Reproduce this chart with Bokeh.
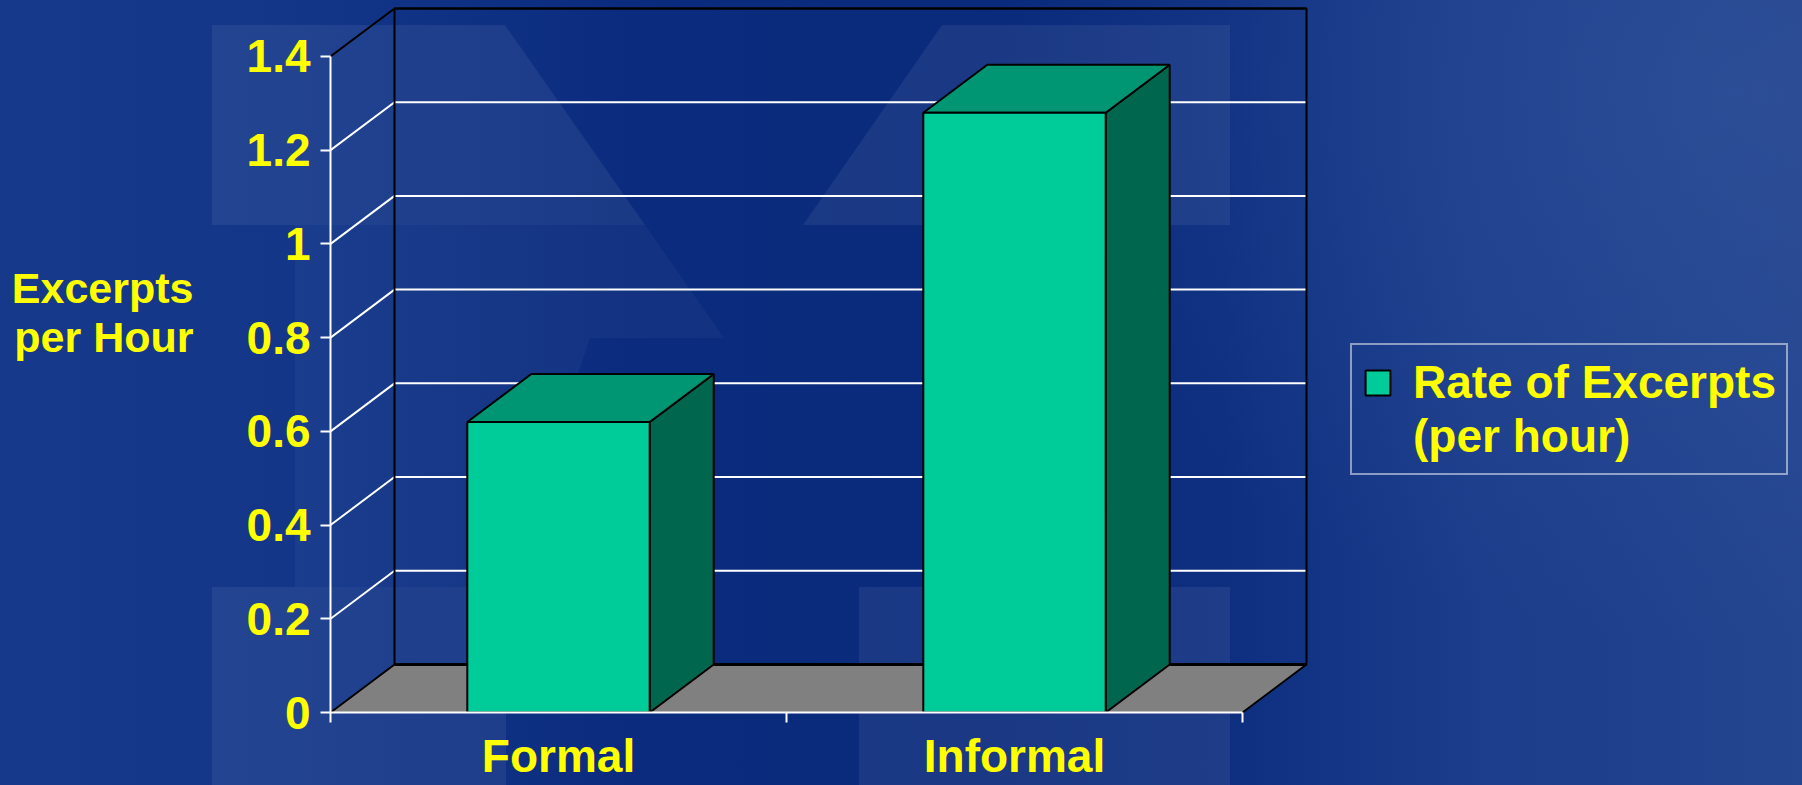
import urllib.parse
from bokeh.plotting import figure
from bokeh.models import (Range1d, FixedTicker, CustomJSTickFormatter, Legend,
                          LegendItem, LinearAxis)
from bokeh.embed import file_html
from bokeh.resources import INLINE

# ---------------- data ----------------
CATEGORIES = ["Formal", "Informal"]
RATES = [0.62, 1.28]
SERIES_LINES = ["Rate of Excerpts", "(per hour)"]
Y_TICKS = [0, 0.2, 0.4, 0.6, 0.8, 1.0, 1.2, 1.4]
Y_TITLE = ["Excerpts", "per Hour"]

# ---------------- layout constants ----------------
W, H = 1802, 785
LEFT, BOTTOM = 330, 73
PX_CAT = 456.0          # pixels per category slot
PX_VAL = 468.6          # pixels per value unit
X_END = (W - LEFT) / PX_CAT
Y_END = (H - BOTTOM) / PX_VAL
DX = 64 / PX_CAT        # 3-D depth offset (x)
DY = 48 / PX_VAL        # 3-D depth offset (y)
BAR_W = 0.4
N = len(CATEGORIES)
Y_MAX = Y_TICKS[-1]
TITLE_POS = [425 / PX_VAL, 376 / PX_VAL]   # vertical spots of the two title lines

FONT = "Liberation Sans"
YELLOW = "#FFFF00"

# ---------------- background (template look) ----------------
wm = ("<svg xmlns='http://www.w3.org/2000/svg' width='1802' height='785'>"
      "<g fill='white' fill-opacity='0.065'>"
      "<polygon points='212,25 505,25 645,225 212,225'/>"
      "<polygon points='942,25 1230,25 1230,225 803,225'/>"
      "<rect x='212' y='587' width='294' height='198'/>"
      "<rect x='859' y='587' width='371' height='198'/>"
      "</g>"
      "<g fill='white' fill-opacity='0.035'>"
      "<polygon points='295,225 645,225 724,338 590,338 505,587 295,587'/>"
      "</g></svg>")
wm_url = "url(\"data:image/svg+xml," + urllib.parse.quote(wm) + "\")"

p = figure(width=W, height=H, output_backend="svg", toolbar_location=None,
           x_range=Range1d(0, X_END), y_range=Range1d(0, Y_END),
           min_border_left=LEFT, min_border_bottom=BOTTOM,
           min_border_top=0, min_border_right=0,
           background_fill_color=None, border_fill_color=None,
           outline_line_color=None)
p.styles = {
    "background": (
        wm_url + " no-repeat 0 0,"
        "radial-gradient(ellipse 40% 70% at 96% 12%, rgba(60,95,165,0.35), rgba(60,95,165,0) 100%),"
        "linear-gradient(90deg, #16398a 0%, #133689 16%, #0b2c7e 35%, #0a2a7b 55%, "
        "#0e2f80 68%, #1b3d8b 82%, #24458f 100%)"
    )
}
p.xgrid.visible = False
p.ygrid.visible = False

# ---------------- floor ----------------
p.patch([0, N, N + DX, DX], [0, 0, DY, DY], fill_color="#808080", line_color=None)

# ---------------- grid lines (left diagonals + back wall) ----------------
inner = Y_TICKS[1:-1]
p.multi_line(xs=[[0, DX, N + DX] for _ in inner],
             ys=[[t, t + DY, t + DY] for t in inner],
             line_color="white", line_width=2)

# ---------------- wall / floor edges ----------------
edge_xs = [[0, DX, DX, N + DX, N + DX, N],
           [0, DX, N + DX]]
edge_ys = [[0, DY, Y_MAX + DY, Y_MAX + DY, DY, 0],
           [Y_MAX, Y_MAX + DY, Y_MAX + DY]]
p.multi_line(xs=edge_xs, ys=edge_ys, line_color="black", line_width=2)
p.line([DX, N + DX], [DY, DY], line_color="black", line_width=3)

# ---------------- 3-D bars ----------------
centers = [i + 0.5 for i in range(N)]
lefts = [c - BAR_W / 2 for c in centers]
rights = [c + BAR_W / 2 for c in centers]

p.patches(xs=[[r, r + DX, r + DX, r] for r in rights],
          ys=[[0, DY, v + DY, v] for v in RATES],
          fill_color="#00664D", line_color="black", line_width=2)
p.patches(xs=[[l, r, r + DX, l + DX] for l, r in zip(lefts, rights)],
          ys=[[v, v, v + DY, v + DY] for v in RATES],
          fill_color="#009673", line_color="black", line_width=2)
front = p.quad(left=lefts, right=rights, bottom=0, top=RATES,
               fill_color="#00CC99", line_color="black", line_width=2)

# ---------------- axes ----------------
ya = p.yaxis[0]
ya.bounds = (0, Y_MAX)
ya.ticker = FixedTicker(ticks=Y_TICKS, minor_ticks=[])
ya.formatter = CustomJSTickFormatter(code="return String(Math.round(tick*10)/10)")
ya.axis_line_color = "white"
ya.axis_line_width = 2
ya.major_tick_line_color = "white"
ya.major_tick_line_width = 2
ya.major_tick_out = 10
ya.major_tick_in = 0
ya.minor_tick_line_color = None
ya.major_label_text_font = FONT
ya.major_label_text_font_style = "bold"
ya.major_label_text_font_size = "46px"
ya.major_label_text_color = YELLOW
ya.major_label_standoff = 10

# y-axis title, two lines, horizontal, left of the tick labels
title_axis = LinearAxis(
    ticker=FixedTicker(ticks=TITLE_POS, minor_ticks=[]),
    formatter=CustomJSTickFormatter(
        args=dict(lines=Y_TITLE, pos=TITLE_POS),
        code=("let b = 0; for (let i = 0; i < pos.length; i++) {"
              " if (Math.abs(pos[i] - tick) < Math.abs(pos[b] - tick)) b = i; }"
              " return lines[b];")),
    axis_line_color=None, major_tick_line_color=None, minor_tick_line_color=None,
    major_tick_out=0, major_tick_in=0,
    major_label_text_font=FONT, major_label_text_font_style="bold",
    major_label_text_font_size="43px", major_label_text_color=YELLOW,
    major_label_standoff=50)
p.add_layout(title_axis, "left")

xa = p.xaxis[0]
xa.bounds = (0, N)
xa.ticker = FixedTicker(ticks=centers, minor_ticks=list(range(N + 1)))
xa.formatter = CustomJSTickFormatter(args=dict(cats=CATEGORIES),
                                     code="return cats[Math.floor(tick)]")
xa.axis_line_color = "white"
xa.axis_line_width = 2
xa.major_tick_line_color = None
xa.major_tick_out = 0
xa.major_tick_in = 0
xa.minor_tick_line_color = "white"
xa.minor_tick_line_width = 2
xa.minor_tick_out = 0
xa.minor_tick_in = -10
xa.major_label_text_font = FONT
xa.major_label_text_font_style = "bold"
xa.major_label_text_font_size = "46px"
xa.major_label_text_color = YELLOW
xa.major_label_standoff = 17

# ---------------- legend ----------------
ghost = p.quad(left=lefts, right=rights, bottom=0, top=RATES,
               fill_alpha=0, line_alpha=0)
legend = Legend(items=[LegendItem(label=SERIES_LINES[0], renderers=[front]),
                       LegendItem(label=SERIES_LINES[1], renderers=[ghost])],
                location=(1020, 237), margin=0, padding=10, spacing=0,
                label_standoff=20, glyph_width=31, glyph_height=31,
                label_text_font=FONT, label_text_font_style="bold",
                label_text_font_size="46px", label_text_color=YELLOW,
                border_line_color="white", border_line_width=2,
                background_fill_alpha=0)
p.add_layout(legend)

open("out.html", "w").write(file_html(p, INLINE))
